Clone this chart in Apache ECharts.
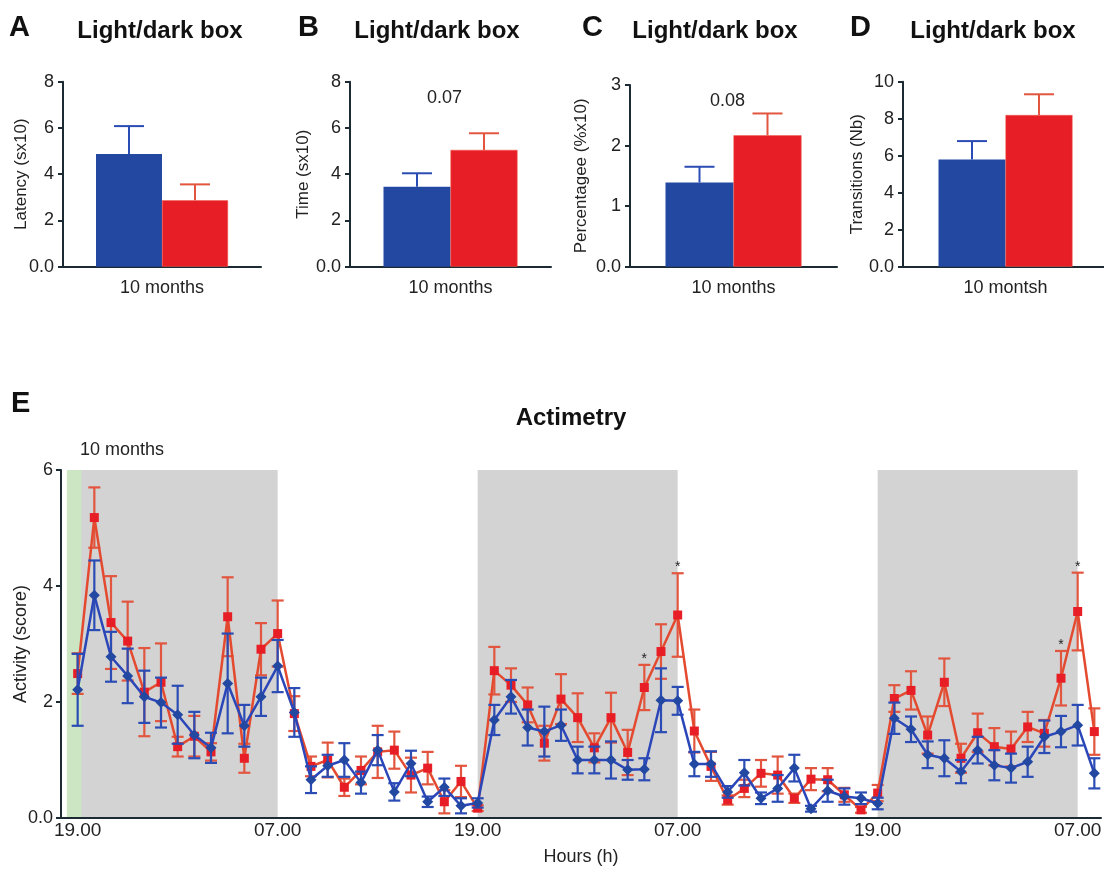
<!DOCTYPE html>
<html><head><meta charset="utf-8">
<script src="https://cdn.jsdelivr.net/npm/echarts@6/dist/echarts.min.js"></script>
<style>html,body{margin:0;padding:0;background:#fff}#c{width:1104px;height:872px}</style>
</head><body><div id="c"></div>
<script>
// ---------- Panels A-D : light/dark box ----------
const panelLetters = ['A', 'B', 'C', 'D'];
const panelTitles = ['Light/dark box', 'Light/dark box', 'Light/dark box', 'Light/dark box'];
const panelCategories = ['10 months', '10 months', '10 months', '10 montsh'];
const panelYNames = ['Latency (sx10)', 'Time (sx10)', 'Percentagee (%x10)', 'Transitions (Nb)'];
const panelYMax = [8, 8, 3, 10];
const panelYInterval = [2, 2, 1, 2];
const blueMeans = [4.87, 3.46, 1.39, 5.80];
const blueSem = [1.21, 0.58, 0.26, 0.99];
const redMeans = [2.87, 5.05, 2.17, 8.20];
const redSem = [0.69, 0.72, 0.36, 1.12];
const pValues = ['', '0.07', '0.08', ''];

// ---------- Panel E : actimetry (hourly, index 0 = 19.00 of day 1) ----------
const redActivity = [2.49, 5.18, 3.37, 3.05, 2.17, 2.34, 1.23, 1.41, 1.14, 3.47, 1.03, 2.91, 3.18, 1.80,
  0.89, 1.00, 0.53, 0.82, 1.14, 1.17, 0.74, 0.86, 0.28, 0.63, 0.17,
  2.54, 2.29, 1.95, 1.29, 2.05, 1.73, 1.21, 1.73, 1.13, 2.25, 2.87, 3.50, 1.50,
  0.89, 0.31, 0.51, 0.77, 0.74, 0.34, 0.67, 0.66, 0.40, 0.14, 0.43,
  2.06, 2.20, 1.43, 2.34, 1.03, 1.47, 1.23, 1.19, 1.57, 1.46, 2.41, 3.56, 1.49];
const redActivitySem = [0.35, 0.52, 0.80, 0.68, 0.76, 0.67, 0.17, 0.35, 0.15, 0.68, 0.25, 0.45, 0.57, 0.30,
  0.17, 0.30, 0.15, 0.24, 0.45, 0.32, 0.30, 0.28, 0.20, 0.27, 0.05,
  0.41, 0.29, 0.30, 0.30, 0.43, 0.42, 0.25, 0.43, 0.39, 0.39, 0.47, 0.72, 0.37,
  0.25, 0.08, 0.15, 0.23, 0.32, 0.08, 0.19, 0.20, 0.12, 0.05, 0.14,
  0.23, 0.33, 0.32, 0.41, 0.25, 0.33, 0.32, 0.30, 0.26, 0.23, 0.47, 0.67, 0.40];
const blueActivity = [2.21, 3.84, 2.78, 2.45, 2.09, 1.99, 1.78, 1.43, 1.21, 2.32, 1.59, 2.09, 2.62, 1.82,
  0.66, 0.90, 1.00, 0.61, 1.17, 0.45, 0.94, 0.28, 0.53, 0.21, 0.26,
  1.69, 2.09, 1.56, 1.49, 1.60, 1.00, 1.00, 1.00, 0.83, 0.84, 2.03, 2.02, 0.93,
  0.93, 0.45, 0.78, 0.34, 0.51, 0.86, 0.16, 0.47, 0.37, 0.34, 0.25,
  1.72, 1.53, 1.09, 1.03, 0.80, 1.17, 0.91, 0.86, 0.97, 1.40, 1.49, 1.60, 0.77];
const blueActivitySem = [0.62, 0.60, 0.43, 0.47, 0.45, 0.43, 0.50, 0.40, 0.26, 0.86, 0.36, 0.33, 0.45, 0.42,
  0.23, 0.19, 0.29, 0.19, 0.26, 0.15, 0.22, 0.09, 0.15, 0.13, 0.08,
  0.26, 0.29, 0.31, 0.43, 0.27, 0.23, 0.23, 0.32, 0.17, 0.19, 0.55, 0.24, 0.21,
  0.22, 0.10, 0.22, 0.10, 0.23, 0.23, 0.05, 0.19, 0.14, 0.10, 0.10,
  0.27, 0.22, 0.23, 0.31, 0.20, 0.23, 0.26, 0.25, 0.26, 0.28, 0.27, 0.35, 0.26];
const starHours = [34, 36, 59, 60];
const darkPeriods = [[0, 12], [24, 36], [48, 60]];
const greenBand = [[-0.65, 0.22]];
const timeTicks = [0, 12, 24, 36, 48, 60];
const timeLabels = ['19.00', '07.00', '19.00', '07.00', '19.00', '07.00'];

// ---------- styles / layout ----------
const FONT = '"Liberation Sans", Arial, Helvetica, sans-serif';
const BLUE = '#2348a2', RED = '#e81e26';
const BLUE_ERR = '#2a4cb4', RED_ERR = '#e2553f';
const BLUE_LINE = '#2a46b8', RED_LINE = '#e34a30';
const AXIS = '#1c2a33';
const panelGrids = [
  { left: 63, top: 81.7, width: 198, height: 185 },
  { left: 350, top: 81.7, width: 201, height: 185 },
  { left: 630, top: 85, width: 207, height: 181.7 },
  { left: 903, top: 81.7, width: 205, height: 185 }
];
const barW = [66, 67, 68, 67];
const nameGaps = [33, 38, 40, 37];
const titleX = [160, 437, 715, 993];
const letterX = [9, 298, 582, 850];

const grid = [], xAxis = [], yAxis = [], series = [], graphic = [];

panelLetters.forEach((L, i) => {
  grid.push(Object.assign({ outerBoundsMode: 'none', containLabel: false }, panelGrids[i]));
  xAxis.push({
    type: 'category', gridIndex: i, data: [panelCategories[i]],
    axisLine: { lineStyle: { color: AXIS, width: 2 } },
    axisTick: { show: false },
    axisLabel: { color: '#222', fontSize: 18, fontFamily: FONT, margin: 12 }
  });
  yAxis.push({
    type: 'value', gridIndex: i, min: 0, max: panelYMax[i], interval: panelYInterval[i],
    name: panelYNames[i], nameLocation: 'middle', nameGap: nameGaps[i], nameMoveOverlap: false,
    nameTextStyle: { color: '#222', fontSize: 17, fontFamily: FONT },
    axisLine: { show: true, onZero: false, lineStyle: { color: AXIS, width: 2 } },
    axisTick: { show: true, length: 5, lineStyle: { color: AXIS, width: 2 } },
    splitLine: { show: false },
    axisLabel: { color: '#222', fontSize: 18, fontFamily: FONT, margin: 9,
      formatter: v => v === 0 ? '0.0' : String(v) }
  });
  series.push({
    type: 'bar', xAxisIndex: i, yAxisIndex: i, data: [blueMeans[i]],
    barWidth: barW[i], barGap: '0%', itemStyle: { color: BLUE }
  });
  series.push({
    type: 'bar', xAxisIndex: i, yAxisIndex: i, data: [redMeans[i]],
    barWidth: barW[i], barGap: '0%', itemStyle: { color: RED, borderColor: '#ee5a4a', borderWidth: 0.5 }
  });
  series.push({
    type: 'custom', xAxisIndex: i, yAxisIndex: i, z: 5,
    data: [[0, blueMeans[i], blueSem[i], -1], [0, redMeans[i], redSem[i], 1]],
    renderItem: (params, api) => {
      const side = api.value(3);
      const m = api.coord([api.value(0), api.value(1)]);
      const t = api.coord([api.value(0), api.value(1) + api.value(2)]);
      const x = m[0] + side * barW[i] / 2;
      const col = side < 0 ? BLUE_ERR : RED_ERR;
      return { type: 'group', children: [
        { type: 'line', shape: { x1: x, y1: m[1], x2: x, y2: t[1] }, style: { stroke: col, lineWidth: 2 } },
        { type: 'line', shape: { x1: x - 15, y1: t[1], x2: x + 15, y2: t[1] }, style: { stroke: col, lineWidth: 2 } }
      ] };
    }
  });
  if (pValues[i]) {
    series.push({
      type: 'custom', xAxisIndex: i, yAxisIndex: i, z: 6,
      data: [[0, panelYMax[i]]],
      renderItem: (params, api) => {
        const p = api.coord([api.value(0), api.value(1)]);
        return { type: 'text', style: { text: pValues[i], x: p[0] - 6, y: p[1] + 16,
          align: 'center', verticalAlign: 'middle', fill: '#222', font: '18px ' + FONT } };
      }
    });
  }
  graphic.push({ type: 'text', style: { text: L, x: letterX[i], y: 28, verticalAlign: 'middle',
    fill: '#111', font: 'bold 29px ' + FONT } });
  graphic.push({ type: 'text', style: { text: panelTitles[i], x: titleX[i], y: 31, align: 'center',
    verticalAlign: 'middle', fill: '#111', font: 'bold 24px ' + FONT } });
});

// ---------- Panel E ----------
const E = 4;
grid.push({ left: 61, top: 470, width: 1040, height: 348, outerBoundsMode: 'none', containLabel: false });
xAxis.push({
  type: 'value', gridIndex: E, min: -1, max: 61.4,
  name: 'Hours (h)', nameLocation: 'middle', nameGap: 30, nameMoveOverlap: false,
  nameTextStyle: { color: '#222', fontSize: 18, fontFamily: FONT },
  axisLine: { onZero: false, lineStyle: { color: AXIS, width: 2 } },
  axisTick: { show: false },
  splitLine: { show: false },
  axisLabel: { customValues: timeTicks, color: '#222', fontSize: 19, fontFamily: FONT, margin: 3,
    formatter: v => timeLabels[timeTicks.indexOf(v)] || '' }
});
yAxis.push({
  type: 'value', gridIndex: E, min: 0, max: 6, interval: 2,
  name: 'Activity (score)', nameLocation: 'middle', nameGap: 31, nameMoveOverlap: false,
  nameTextStyle: { color: '#222', fontSize: 18, fontFamily: FONT },
  axisLine: { show: true, onZero: false, lineStyle: { color: AXIS, width: 2 } },
  axisTick: { show: true, length: 5, lineStyle: { color: AXIS, width: 2 } },
  splitLine: { show: false },
  axisLabel: { color: '#222', fontSize: 18, fontFamily: FONT, margin: 8,
    formatter: v => v === 0 ? '0.0' : String(v) }
});

function bandSeries(bands, color) {
  return {
    type: 'custom', xAxisIndex: E, yAxisIndex: E, z: 0, silent: true,
    data: bands, encode: { x: [0, 1] },
    renderItem: (params, api) => {
      const a = api.coord([api.value(0), 6]);
      const b = api.coord([api.value(1), 0]);
      return { type: 'rect', shape: { x: a[0], y: a[1], width: b[0] - a[0], height: b[1] - a[1] },
        style: { fill: color } };
    }
  };
}
series.push(bandSeries(darkPeriods, '#d3d3d3'));
series.push(bandSeries(greenBand, '#cce6c4'));

function errSeries(means, sems, color, z) {
  return {
    type: 'custom', xAxisIndex: E, yAxisIndex: E, z: z,
    data: means.map((m, h) => [h, m, sems[h]]),
    encode: { x: 0, y: 1 },
    renderItem: (params, api) => {
      const h = api.value(0), m = api.value(1), s = api.value(2);
      const t = api.coord([h, m + s]);
      const b = api.coord([h, Math.max(0, m - s)]);
      const st = { stroke: color, lineWidth: 2.2 };
      return { type: 'group', children: [
        { type: 'line', shape: { x1: t[0], y1: t[1], x2: b[0], y2: b[1] }, style: st },
        { type: 'line', shape: { x1: t[0] - 6, y1: t[1], x2: t[0] + 6, y2: t[1] }, style: st },
        { type: 'line', shape: { x1: b[0] - 6, y1: b[1], x2: b[0] + 6, y2: b[1] }, style: st }
      ] };
    }
  };
}
series.push(errSeries(redActivity, redActivitySem, RED_ERR, 2));
series.push({
  type: 'line', xAxisIndex: E, yAxisIndex: E, z: 3,
  data: redActivity.map((m, h) => [h, m]),
  symbol: 'rect', symbolSize: 9, showSymbol: true,
  lineStyle: { color: RED_LINE, width: 2.5 }, itemStyle: { color: RED }
});
series.push(errSeries(blueActivity, blueActivitySem, BLUE_ERR, 4));
series.push({
  type: 'line', xAxisIndex: E, yAxisIndex: E, z: 5,
  data: blueActivity.map((m, h) => [h, m]),
  symbol: 'diamond', symbolSize: 11, showSymbol: true,
  lineStyle: { color: BLUE_LINE, width: 2.5 }, itemStyle: { color: BLUE }
});
series.push({
  type: 'custom', xAxisIndex: E, yAxisIndex: E, z: 6,
  data: starHours.map(h => [h, redActivity[h] + redActivitySem[h]]),
  renderItem: (params, api) => {
    const p = api.coord([api.value(0), api.value(1)]);
    return { type: 'text', style: { text: '*', x: p[0], y: p[1] - 6, align: 'center',
      verticalAlign: 'middle', fill: '#222', font: '14px ' + FONT } };
  }
});

graphic.push({ type: 'text', style: { text: 'E', x: 11, y: 404, verticalAlign: 'middle',
  fill: '#111', font: 'bold 29px ' + FONT } });
graphic.push({ type: 'text', style: { text: 'Actimetry', x: 571, y: 418, align: 'center',
  verticalAlign: 'middle', fill: '#111', font: 'bold 24px ' + FONT } });
graphic.push({ type: 'text', style: { text: '10 months', x: 80, y: 450, verticalAlign: 'middle',
  fill: '#222', font: '18px ' + FONT } });

const chart = echarts.init(document.getElementById('c'), null, { renderer: 'canvas' });
chart.setOption({ animation: false, backgroundColor: '#fff', grid, xAxis, yAxis, series, graphic });
</script></body></html>
